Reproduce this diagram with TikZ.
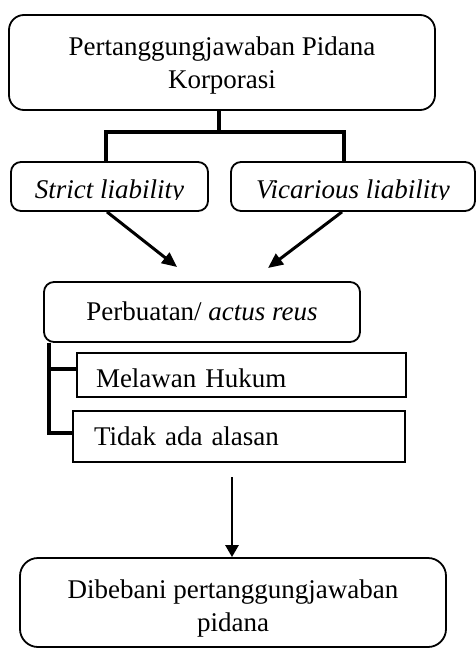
\documentclass[tikz,border=0pt]{standalone}
\usepackage{fontspec}
\setmainfont{Liberation Serif}
\usetikzlibrary{arrows.meta}
\begin{document}
\begin{tikzpicture}[x=1pt,y=-1pt,
  font=\fontsize{27}{33}\selectfont,
  rbox/.style={draw, line width=1.8pt, rounded corners=#1, inner sep=0pt},
  sbox/.style={draw, line width=1.8pt, inner ysep=0pt, align=left},
  txt/.style={inner sep=0pt, anchor=base},
  tree/.style={line width=3.8pt},
  arr/.style={line width=3pt, -{Triangle[length=15pt,width=13pt]}},
  arrd/.style={line width=2.6pt, -{Triangle[length=12pt,width=13pt]}}]
\useasboundingbox (0,0) rectangle (476,648);

% top box
\node[rbox=15pt, minimum width=426pt, minimum height=95pt, text height=0pt, text depth=15pt] (top) at (222,62.5)
  {\begin{tabular}[t]{@{}c@{}}Pertanggungjawaban Pidana\\Korporasi\end{tabular}};

% liability boxes
\node[rbox=10pt, minimum width=197pt, minimum height=49pt] (strict) at (109.5,186.5) {};
\begin{scope}
  \clip (11,162) rectangle (208,199.5);
  \node[txt] (stricttxt) at (109.5,198) {\textit{Strict liability}};
\end{scope}
\node[rbox=10pt, minimum width=244pt, minimum height=49pt] (vic) at (353,186.5) {};
\begin{scope}
  \clip (231,162) rectangle (475,199.5);
  \node[txt] (victxt) at (353,198) {\textit{Vicarious liability}};
\end{scope}

% tree
\draw[tree] ([xshift=-3pt]top.south) -- ++(0,23);
\draw[tree] ([xshift=-3.5pt]strict.north) -- ++(0,-29) -| ([xshift=-9pt]vic.north);

% arrows to perbuatan
\coordinate (a1) at (177,267);
\coordinate (a2) at (268,268);
\draw[arr] ([xshift=-2.5pt]strict.south) -- (a1);
\draw[arr] ([xshift=-11pt]vic.south) -- (a2);

% perbuatan
\node[rbox=10pt, minimum width=316pt, minimum height=60pt, text height=16pt, text depth=0pt] (perb) at (202,312)
  {Perbuatan/ \textit{actus reus}};

% sub boxes
\node[sbox, inner xsep=19pt, text width=291pt, minimum height=44pt, text height=24pt, text depth=0pt] (melawan) at (241.5,375)
  {Melawan Hukum};
\node[sbox, inner xsep=21pt, text width=290pt, minimum height=51pt, text height=17pt, text depth=0pt] (tidak) at (239,436.5)
  {Tidak ada alasan};

% bracket
\draw[tree] ([xshift=6pt]perb.south west) |- ([yshift=3.5pt]tidak.west);
\draw[tree] ([yshift=6pt]melawan.west) -- ++(-27,0);

% bottom box
\node[rbox=18pt, minimum width=426pt, minimum height=89pt, text height=0pt, text depth=9pt] (bottom) at (233,602.5)
  {\begin{tabular}[t]{@{}c@{}}Dibebani pertanggungjawaban\\pidana\end{tabular}};

\coordinate (d0) at (232,477);
\draw[arrd] (d0) -- (d0 |- bottom.north);
\end{tikzpicture}
\end{document}
